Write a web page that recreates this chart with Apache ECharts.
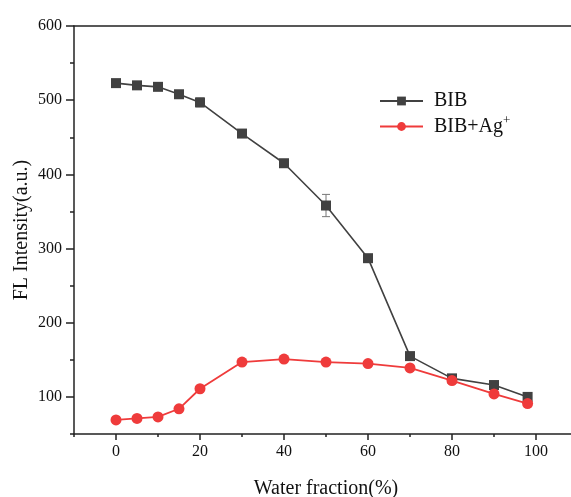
<!DOCTYPE html>
<html>
<head>
<meta charset="utf-8">
<script src="https://cdn.jsdelivr.net/npm/echarts@6/dist/echarts.min.js"></script>
<style>
  html, body { margin: 0; padding: 0; background: #fff; }
  #main { width: 571px; height: 497px; }
</style>
</head>
<body>
<div id="main"></div>
<script>
// 水含量 (%)
var waterFraction = [0, 5, 10, 15, 20, 30, 40, 50, 60, 70, 80, 90, 98];
// BIB 荧光强度
var bibValues = [523, 520, 518, 508, 497, 455, 415, 358, 287, 155, 125, 116, 100];
var bibErrors = [3, 3, 3, 4, 6, 3, 3, 15, 3, 3, 3, 3, 3];
// BIB+Ag+ 荧光强度
var agValues = [69, 71, 73, 84, 111, 147, 151, 147, 145, 139, 122, 104, 91];
// 刻度
var xMajorTicks = [0, 20, 40, 60, 80, 100];
var xMinorTicks = [-10, 10, 30, 50, 70, 90, 110];
var yMajorTicks = [100, 200, 300, 400, 500, 600];
var yMinorTicks = [50, 150, 250, 350, 450, 550];

var chart = echarts.init(document.getElementById('main'), null, { renderer: 'canvas' });
var serif = 'Liberation Serif';
var axisColor = '#222';

function pairs(xs, ys) {
  return xs.map(function (x, i) { return [x, ys[i]]; });
}

var option = {
  backgroundColor: '#fff',
  animation: false,
  grid: {
    left: 74, top: 26, width: 504, height: 408,
    outerBoundsMode: 'none',
    containLabel: false,
    show: false
  },
  legend: {
    left: 374, top: 86,
    orient: 'vertical',
    itemWidth: 43, itemHeight: 11, itemGap: 3,
    data: ['BIB', 'BIB+Ag+'],
    formatter: function (name) {
      return name === 'BIB+Ag+' ? 'BIB+Ag{sup|+}' : name;
    },
    textStyle: {
      fontFamily: serif, fontSize: 20, color: '#111', padding: [0, 0, 0, 6],
      rich: { sup: { fontFamily: serif, fontSize: 13, color: '#111', padding: [0, 0, 12, 0] } }
    }
  },
  xAxis: [{
    type: 'value', min: -10, max: 110,
    name: 'Water fraction(%)', nameLocation: 'middle', nameGap: 45,
    nameTextStyle: { fontFamily: serif, fontSize: 20, color: '#111' },
    axisLine: { show: true, onZero: false, lineStyle: { color: axisColor, width: 1.5 } },
    axisTick: { show: true, length: 6, customValues: xMajorTicks, lineStyle: { color: axisColor, width: 1.5 } },
    axisLabel: { customValues: xMajorTicks, margin: 10, fontFamily: serif, fontSize: 16, color: '#111' },
    splitLine: { show: false }
  }, {
    type: 'value', min: -10, max: 110, position: 'bottom',
    axisLine: { show: false, onZero: false },
    axisTick: { show: true, length: 3, customValues: xMinorTicks, lineStyle: { color: axisColor, width: 1.5 } },
    axisLabel: { show: false },
    splitLine: { show: false }
  }, {
    // 上边框
    type: 'value', min: -10, max: 110, position: 'top',
    axisLine: { show: true, onZero: false, lineStyle: { color: axisColor, width: 1.5 } },
    axisTick: { show: false },
    axisLabel: { show: false },
    splitLine: { show: false }
  }],
  yAxis: [{
    type: 'value', min: 50, max: 600,
    name: 'FL Intensity(a.u.)', nameLocation: 'middle', nameGap: 42,
    nameMoveOverlap: false,
    nameTextStyle: { fontFamily: serif, fontSize: 20, color: '#111' },
    axisLine: { show: true, onZero: false, lineStyle: { color: axisColor, width: 1.5 } },
    axisTick: { show: true, length: 8, customValues: yMajorTicks, lineStyle: { color: axisColor, width: 1.5 } },
    axisLabel: { customValues: yMajorTicks, margin: 12, fontFamily: serif, fontSize: 16, color: '#111' },
    splitLine: { show: false }
  }, {
    type: 'value', min: 50, max: 600, position: 'left',
    axisLine: { show: false, onZero: false },
    axisTick: { show: true, length: 4, customValues: yMinorTicks, lineStyle: { color: axisColor, width: 1.5 } },
    axisLabel: { show: false },
    splitLine: { show: false }
  }],
  series: [{
    // 误差棒
    type: 'custom',
    silent: true,
    z: 1,
    data: waterFraction.map(function (x, i) { return [x, bibValues[i] - bibErrors[i], bibValues[i] + bibErrors[i]]; }),
    renderItem: function (params, api) {
      var lo = api.coord([api.value(0), api.value(1)]);
      var hi = api.coord([api.value(0), api.value(2)]);
      var w = 4;
      var st = { stroke: '#777', lineWidth: 1 };
      return {
        type: 'group',
        children: [
          { type: 'line', shape: { x1: lo[0], y1: lo[1], x2: hi[0], y2: hi[1] }, style: st },
          { type: 'line', shape: { x1: lo[0] - w, y1: lo[1], x2: lo[0] + w, y2: lo[1] }, style: st },
          { type: 'line', shape: { x1: hi[0] - w, y1: hi[1], x2: hi[0] + w, y2: hi[1] }, style: st }
        ]
      };
    }
  }, {
    name: 'BIB',
    type: 'line',
    z: 3,
    data: pairs(waterFraction, bibValues),
    symbol: 'rect', symbolSize: 10,
    itemStyle: { color: '#414141' },
    lineStyle: { color: '#414141', width: 1.6 }
  }, {
    name: 'BIB+Ag+',
    type: 'line',
    z: 4,
    data: pairs(waterFraction, agValues),
    symbol: 'circle', symbolSize: 11,
    itemStyle: { color: '#ef3b3b' },
    lineStyle: { color: '#ef3b3b', width: 1.8 }
  }]
};
chart.setOption(option);
</script>
</body>
</html>
